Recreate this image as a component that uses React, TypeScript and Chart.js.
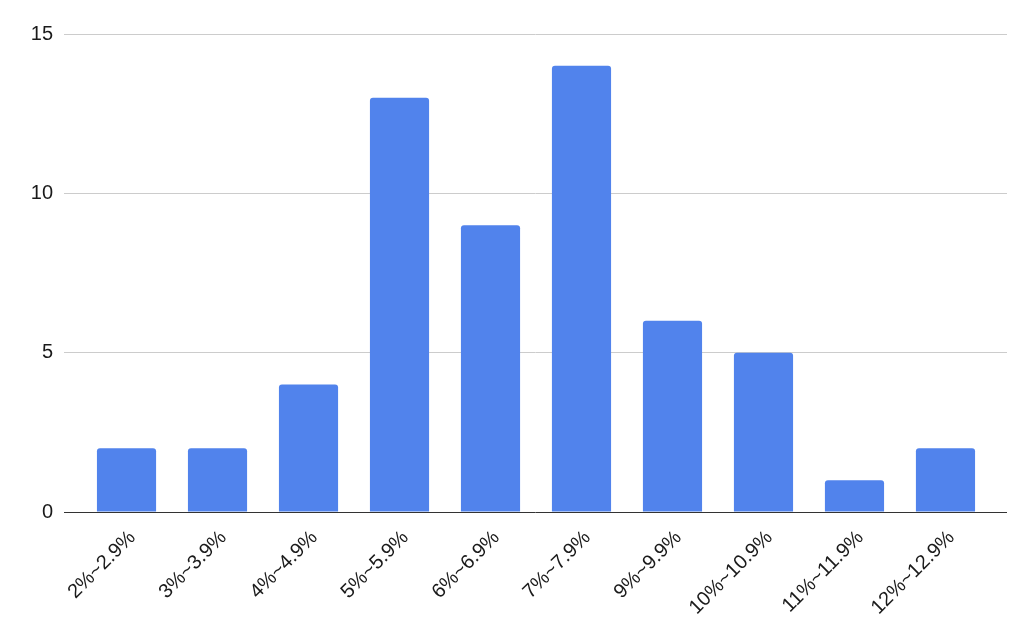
import React, { useEffect, useRef } from "react";
import { Chart, registerables } from "chart.js";

Chart.register(...registerables);

const categories = ["2%~2.9%", "3%~3.9%", "4%~4.9%", "5%~5.9%", "6%~6.9%", "7%~7.9%", "9%~9.9%", "10%~10.9%", "11%~11.9%", "12%~12.9%"];
const counts = [2, 2, 4, 13, 9, 14, 6, 5, 1, 2];
const yTicks = [0, 5, 10, 15];

const FONT = '"Liberation Sans", Arial, sans-serif';

export default function App() {
  const ref = useRef<HTMLCanvasElement | null>(null);
  useEffect(() => {
    if (!ref.current) return;
    const chart = new Chart(ref.current, {
      type: "bar",
      data: {
        datasets: [
          {
            data: counts.map((v, i) => ({ x: i, y: v })),
            backgroundColor: "#5183EC",
            borderRadius: { topLeft: 3, topRight: 3, bottomLeft: 0, bottomRight: 0 },
            borderSkipped: "start",
            barPercentage: 0.65,
            categoryPercentage: 1,
          },
        ],
      },
      options: {
        animation: false,
        responsive: true,
        maintainAspectRatio: false,
        layout: { padding: { top: 34, right: 17, left: 0, bottom: 0 } },
        plugins: { legend: { display: false }, tooltip: { enabled: false } },
        scales: {
          x: {
            type: "linear",
            offset: false,
            min: -0.687,
            max: 9.676,
            afterBuildTicks: (scale: any) => {
              scale.ticks = categories.map((_, i) => ({ value: i }));
            },
            afterFit: (scale: any) => {
              scale.height = 127;
            },
            grid: { display: false, drawTicks: false, offset: false },
            border: { display: false },
            ticks: {
              autoSkip: false,
              minRotation: 45,
              maxRotation: 45,
              padding: 14,
              labelOffset: 6,
              color: "#1a1a1a",
              font: { family: FONT, size: 20 },
              callback: (v: any) => categories[Number(v)] ?? "",
            },
          },
          y: {
            min: 0,
            max: 15,
            afterBuildTicks: (scale: any) => {
              scale.ticks = yTicks.map((v) => ({ value: v }));
            },
            afterFit: (scale: any) => {
              scale.width = 64;
            },
            grid: {
              drawTicks: false,
              color: (ctx: any) => (ctx.tick && ctx.tick.value === 0 ? "#333" : "#cccccc"),
              lineWidth: 1,
            },
            border: { display: false },
            ticks: {
              padding: 11,
              color: "#1a1a1a",
              font: { family: FONT, size: 20 },
            },
          },
        },
      },
    });
    return () => chart.destroy();
  }, []);
  return (
    <div style={{ position: "fixed", left: 0, top: 0, width: 1024, height: 639, background: "#fff" }}>
      <canvas ref={ref} />
    </div>
  );
}
